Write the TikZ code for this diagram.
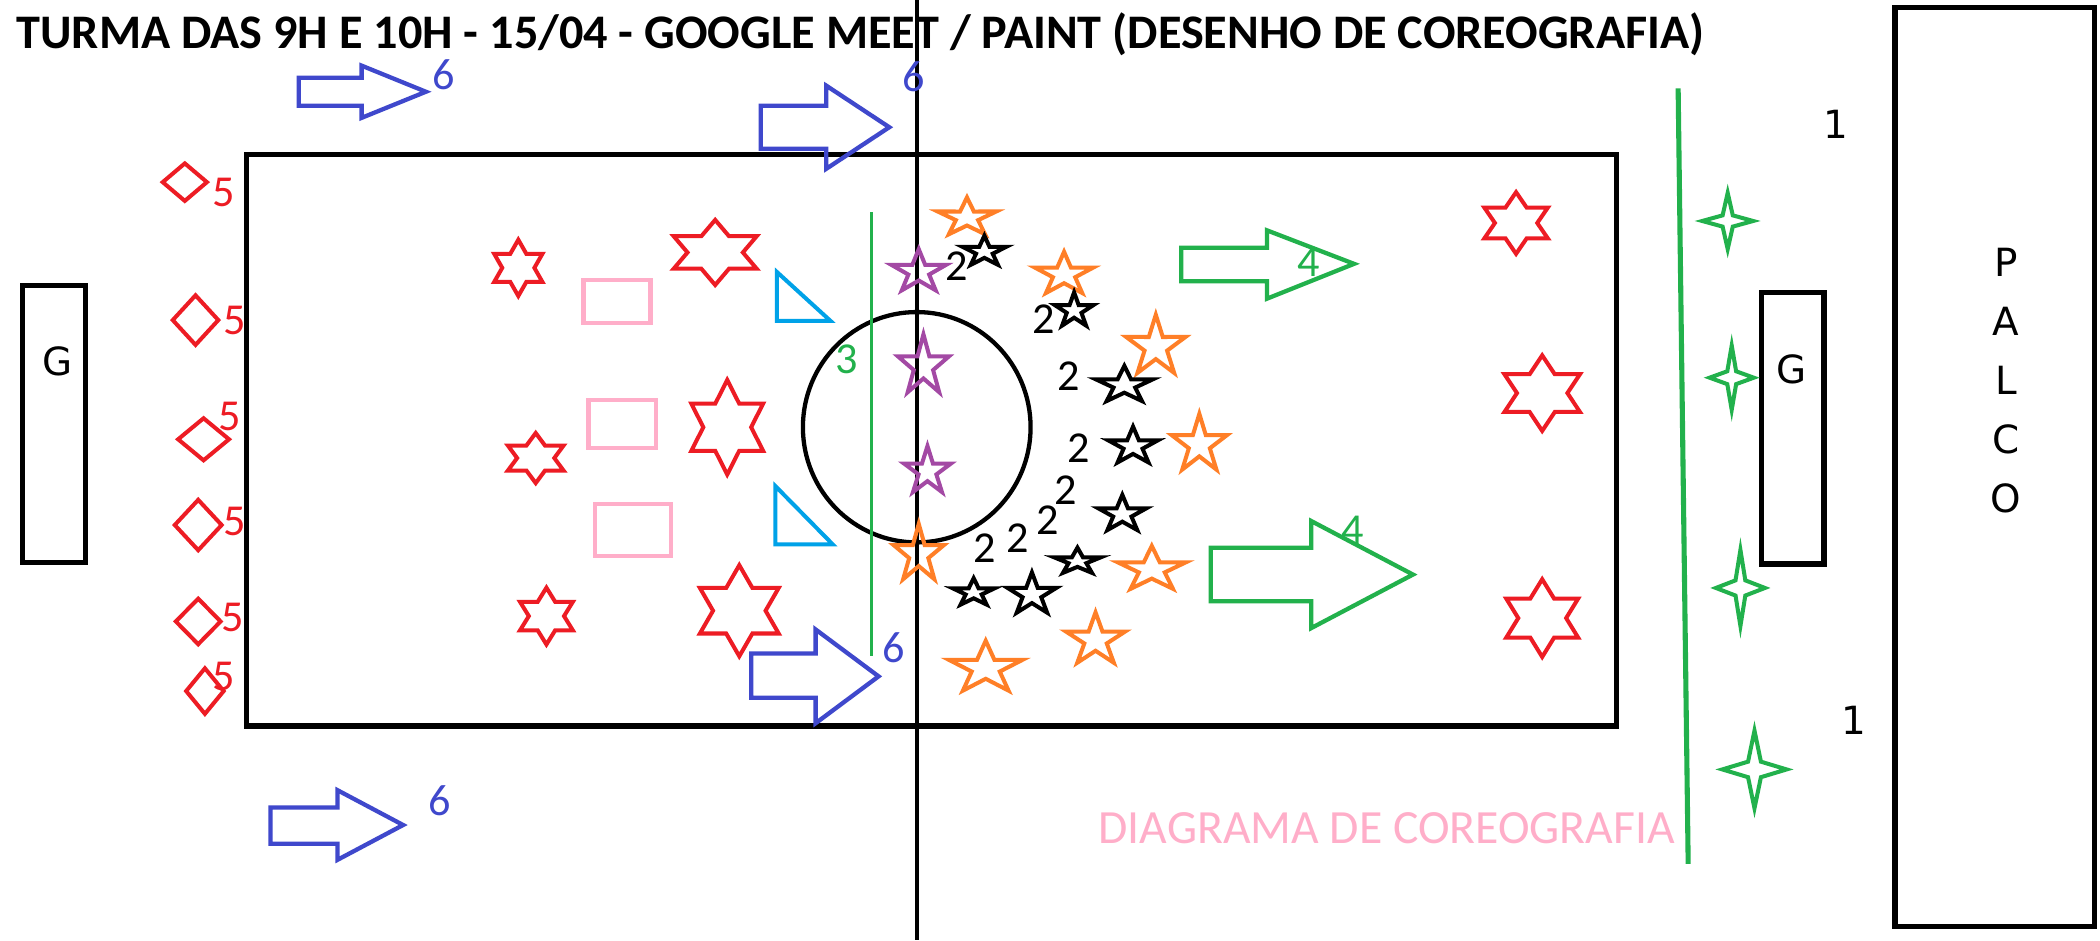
\documentclass[tikz,border=0pt]{standalone}
\usepackage{fontspec}
\setmainfont{Carlito}
\newfontfamily\tahoma{DejaVu Sans}

% five-point star: style, x, y, x-radius, y-radius
\newcommand{\pentastar}[5]{%
  \draw[#1, shift={(#2,#3)}, xscale=#4, yscale=#5]
    plot[samples at={0,...,9}] ({-90+36*\x}:{1-0.62*mod(\x,2)}) -- cycle;}
% six-point star: x, y, half width, half height
\newcommand{\hexstar}[4]{%
  \draw[hexmark, shift={(#1,#2)}, xscale=#3, yscale=#4]
    (0,-1) -- (0.333,-0.5) -- (1,-0.5) -- (0.667,0) -- (1,0.5) -- (0.333,0.5)
    -- (0,1) -- (-0.333,0.5) -- (-1,0.5) -- (-0.667,0) -- (-1,-0.5) -- (-0.333,-0.5) -- cycle;}
% four-point star: x, y, half width, half height
\newcommand{\sparkle}[4]{%
  \draw[sparkmark, shift={(#1,#2)}, xscale=#3, yscale=#4]
    (0,-1) -- (0.2,-0.2) -- (1,0) -- (0.2,0.2) -- (0,1) -- (-0.2,0.2) -- (-1,0) -- (-0.2,-0.2) -- cycle;}
% diamond: x, y, half width, half height
\newcommand{\rhomb}[4]{%
  \draw[hexmark, shift={(#1,#2)}, xscale=#3, yscale=#4]
    (0,-1) -- (1,0) -- (0,1) -- (-1,0) -- cycle;}

\begin{document}
\begin{tikzpicture}[x=0.5pt, y=-0.5pt,
    hexmark/.style={draw=paintred, line width=1.5pt},
    sparkmark/.style={draw=paintgreen, line width=1.5pt},
    arrowmark/.style={line width=1.6pt, line join=miter},
    starline/.style={line width=1.5pt},
    numlabel/.style={inner sep=0, font=\fontsize{16.5}{18}\selectfont},
    boxlabel/.style={inner sep=0, font=\tahoma\fontsize{14.5}{22}\selectfont}]
  % Define colors
  \definecolor{paintred}{RGB}{237,28,36}
  \definecolor{paintblue}{RGB}{63,72,204}
  \definecolor{paintgreen}{RGB}{34,177,76}
  \definecolor{paintorange}{RGB}{255,127,39}
  \definecolor{paintpurple}{RGB}{163,73,164}
  \definecolor{paintpink}{RGB}{255,174,201}
  \definecolor{paintcyan}{RGB}{0,162,232}
  \useasboundingbox[fill=white] (0,0) rectangle (1568,702);
  % Title
  \node[anchor=base west, inner sep=0, font=\fontsize{18}{20}\bfseries] (title) at (12,36)
    {TURMA DAS 9H E 10H - 15/04 - GOOGLE MEET / PAINT (DESENHO DE COREOGRAFIA)};
  % Field, centre line and circle
  \draw[line width=2pt] (184,115.5) rectangle (1207,542);
  \draw[line width=1.5pt] (684.5,0) -- (684.5,702);
  \draw[line width=1.6pt] (684.5,319) ellipse (85 and 86);
  % Goals and stage
  \draw[line width=2pt] (17,213) rectangle (64,420);
  \node[boxlabel] (goalleft) at (43,270) {G};
  \draw[line width=2pt] (1315,218.5) rectangle (1362,421);
  \node[boxlabel] (goalright) at (1338,275.5) {G};
  \draw[line width=2pt] (1415,5.5) rectangle (1564,692);
  \node[boxlabel, align=center] (palco) at (1498,284) {P\\A\\L\\C\\O};
  % Group 1 (green line and four-point stars)
  \draw[paintgreen, line width=1.9pt] (1253,66) -- (1260.5,645);
  \sparkle{1290}{165}{19}{21}
  \sparkle{1293}{282}{16.5}{24}
  \sparkle{1299.5}{439}{18.3}{28.4}
  \sparkle{1310}{574.5}{24}{29}
  \node[boxlabel] (one top) at (1370.5,93) {1};
  \node[boxlabel] (one bottom) at (1384,537.5) {1};
  % Group 3 (green line)
  \draw[paintgreen, line width=1.2pt] (650.5,158.5) -- (650.5,489.5);
  \node[numlabel, text=paintgreen] (three) at (632,268.5) {3};
  % Group 4 (green arrows)
  \draw[arrowmark, paintgreen] (882,185) -- (946,185) -- (946,172) -- (1011,197) -- (946,223) -- (946,210) -- (882,210) -- cycle;
  \draw[arrowmark, paintgreen] (904,409) -- (979,409) -- (979,389) -- (1055,429) -- (979,469) -- (979,449) -- (904,449) -- cycle;
  \node[numlabel, text=paintgreen] (four top) at (977,196) {4};
  \node[numlabel, text=paintgreen] (four bottom) at (1010,396) {4};
  % Group 6 (blue arrows)
  \draw[arrowmark, paintblue] (223,58) -- (270,58) -- (270,49) -- (318,68.5) -- (270,88) -- (270,79) -- (223,79) -- cycle;
  \draw[arrowmark, paintblue] (568,79) -- (617,79) -- (617,64) -- (664,95) -- (617,126) -- (617,111) -- (568,111) -- cycle;
  \draw[arrowmark, paintblue] (561,488) -- (609,488) -- (609,470) -- (656,505) -- (609,540) -- (609,521) -- (561,521) -- cycle;
  \draw[arrowmark, paintblue] (202,603) -- (252,603) -- (252,590) -- (301,616) -- (252,642) -- (252,630) -- (202,630) -- cycle;
  \node[numlabel, text=paintblue] (six a) at (331,56) {6};
  \node[numlabel, text=paintblue] (six b) at (682,57) {6};
  \node[numlabel, text=paintblue] (six c) at (667,484) {6};
  \node[numlabel, text=paintblue] (six d) at (328,598) {6};
  % Group 5 (red diamonds)
  \rhomb{138}{136}{16.5}{14}
  \rhomb{146}{239}{17}{18.5}
  \rhomb{152}{328}{19}{15.7}
  \rhomb{148}{392}{17.5}{18.8}
  \rhomb{148}{464}{16.7}{17}
  \rhomb{153}{516}{14}{17}
  \node[numlabel, text=paintred] (five a) at (167,144) {5};
  \node[numlabel, text=paintred] (five b) at (175,239) {5};
  \node[numlabel, text=paintred] (five c) at (171.5,311) {5};
  \node[numlabel, text=paintred] (five d) at (175,389) {5};
  \node[numlabel, text=paintred] (five e) at (173.5,461) {5};
  \node[numlabel, text=paintred] (five f) at (167,505) {5};
  % Red six-point stars
  \hexstar{387}{200}{18}{21}
  \hexstar{534}{188.5}{31}{24.3}
  \hexstar{543}{319}{26.8}{35.3}
  \hexstar{400}{342}{20.8}{18.7}
  \hexstar{408}{460}{19.7}{21.2}
  \hexstar{552}{456}{29.4}{34}
  \hexstar{1132}{166.5}{23.7}{23}
  \hexstar{1151.5}{293.5}{28.2}{28.2}
  \hexstar{1151.5}{461.5}{26.8}{29}
  % Pink squares
  \draw[paintpink, line width=1.6pt] (435.7,209) rectangle (485.7,241);
  \draw[paintpink, line width=1.6pt] (439.5,298.5) rectangle (490,334.5);
  \draw[paintpink, line width=1.6pt] (444,376.3) rectangle (501,415.3);
  % Blue triangles
  \draw[paintcyan, line width=1.5pt] (580,203) -- (580,239.5) -- (620,239.5) -- cycle;
  \draw[paintcyan, line width=1.5pt] (579,363) -- (579,406.5) -- (621.8,406.5) -- cycle;
  % Purple stars
  \pentastar{paintpurple, starline}{686}{203}{21.5}{17}
  \pentastar{paintpurple, starline}{689.5}{273.5}{20}{23.9}
  \pentastar{paintpurple, starline}{692.5}{352}{18.4}{19}
  % Orange stars
  \pentastar{paintorange, starline}{722}{162.6}{23}{15.2}
  \pentastar{paintorange, starline}{794.5}{205}{23}{17}
  \pentastar{paintorange, starline}{863}{259}{23.3}{24}
  \pentastar{paintorange, starline}{895.5}{332}{21.7}{23}
  \pentastar{paintorange, starline}{686}{414}{19.8}{22.8}
  \pentastar{paintorange, starline}{860}{425.3}{26.8}{17.7}
  \pentastar{paintorange, starline}{818}{478}{23.2}{20.8}
  \pentastar{paintorange, starline}{736}{499}{29}{20.6}
  % Group 2 (black stars)
  \pentastar{black, starline}{735}{188}{17.2}{12}
  \pentastar{black, starline}{802}{232}{15.2}{13.7}
  \pentastar{black, starline}{839.5}{287.7}{22.4}{14.5}
  \pentastar{black, starline}{846}{333.3}{19.6}{14.8}
  \pentastar{black, starline}{838}{384}{18.9}{14.5}
  \pentastar{black, starline}{804.5}{419.3}{18.4}{10.4}
  \pentastar{black, starline}{727}{442.6}{16.5}{10.9}
  \pentastar{black, starline}{770.5}{444}{19.3}{16.6}
  \node[numlabel] (two a) at (714.5,198.5) {2};
  \node[numlabel] (two b) at (779,238) {2};
  \node[numlabel] (two c) at (798,281) {2};
  \node[numlabel] (two d) at (805.5,334.5) {2};
  \node[numlabel] (two e) at (796,366) {2};
  \node[numlabel] (two f) at (782,388.5) {2};
  \node[numlabel] (two g) at (759.5,401.6) {2};
  \node[numlabel] (two h) at (735.5,409.4) {2};
  % Caption
  \node[anchor=east, inner sep=0, text=paintpink, font=\fontsize{17.8}{19}\selectfont] (caption) at (1251,618.5)
    {DIAGRAMA DE COREOGRAFIA};
\end{tikzpicture}
\end{document}
